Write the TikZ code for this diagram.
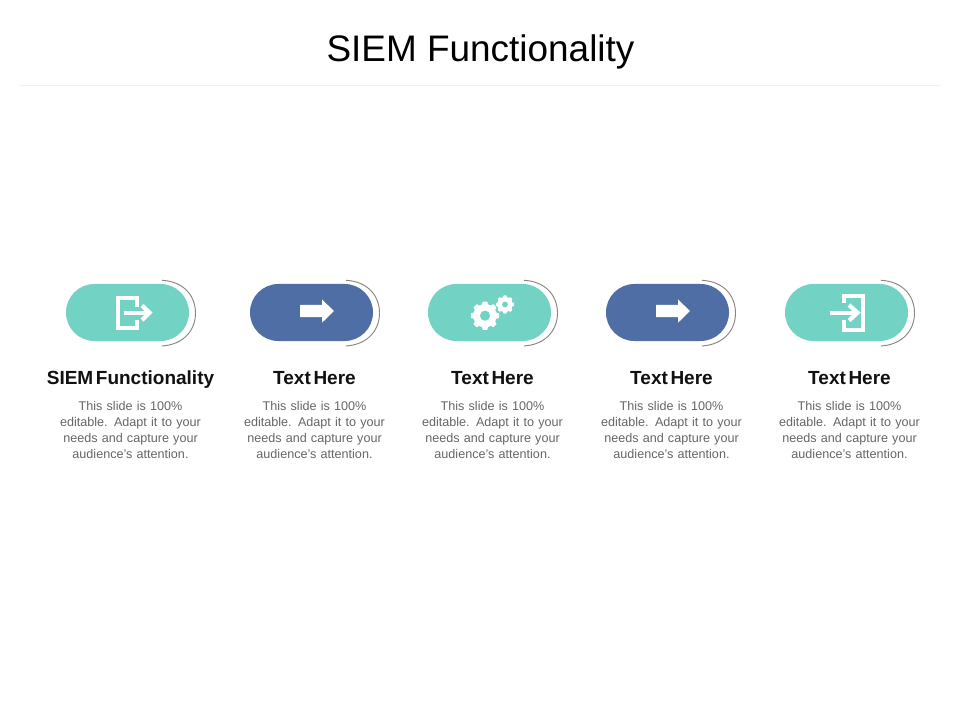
\documentclass[tikz,border=0pt]{standalone}
\usepackage{fontspec}
\setmainfont{Liberation Sans}
\newfontfamily\headfont[WordSpace=0.5]{Liberation Sans}
\definecolor{tealc}{HTML}{72D2C4}
\definecolor{bluec}{HTML}{4F6EA6}
\definecolor{arcc}{HTML}{8C8484}
\definecolor{bodyc}{HTML}{666666}
\definecolor{headc}{HTML}{111111}
\definecolor{rulec}{HTML}{F0F0F0}
\tikzset{
  pill/.style={draw=none,fill=#1,rounded corners=21.3pt},
  ringarc/.style={draw=arcc,line width=0.7pt},
  iconline/.style={draw=white,line width=3pt,line cap=butt,line join=miter},
  titletext/.style={font=\fontsize{27.7pt}{30pt}\selectfont,text=black,inner sep=0pt,anchor=base},
  headtext/.style={font=\headfont\bfseries\fontsize{14.25pt}{16pt}\selectfont,text=headc,inner sep=0pt,anchor=base},
  bodytext/.style={font=\fontsize{9.45pt}{12pt}\selectfont,text=bodyc,inner sep=0pt,align=center,anchor=north,text width=130pt},
}
\newcommand{\gearshape}[4]{% cx cy outer hole
  \begin{scope}[shift={(#1,#2)}]
  \fill[white,even odd rule,rounded corners=0.4pt] (-10:#3)
    \foreach \a in {0,45,...,315}{
      -- ({\a-10}:#3) -- ({\a+10}:#3) -- ({\a+14}:{0.82*#3}) -- ({\a+31}:{0.82*#3})
    } -- cycle
    (0,0) circle[radius=#4];
  \end{scope}
}
\begin{document}
\begin{tikzpicture}[x=0.75pt,y=-0.75pt]
\useasboundingbox[fill=white] (0,0) rectangle (960,720);
\node[titletext] (title) at (480.5,61.5) {SIEM Functionality};
\coordinate (ruleL) at (20,85.5);
\coordinate (ruleR) at (940,85.5);
\draw[rulec,line width=0.6pt] (ruleL) -- (ruleR);

% pills
\foreach \x/\c in {66/tealc,250/bluec,428/tealc,606/bluec,785/tealc}{
  \fill[pill=\c] (\x,284) rectangle (\x+123,341);
  \draw[ringarc] (\x+96,280.3) .. controls (\x+118,281.5) and (\x+129.5,296) .. (\x+129.5,313)
     .. controls (\x+129.5,330) and (\x+118,344.5) .. (\x+96,346);
}

% icon 1
\draw[iconline] (136.5,307.5) -- (136.5,298) -- (118,298) -- (118,328) -- (136.5,328) -- (136.5,320);
\draw[iconline] (124,312.7) -- (148,312.7);
\draw[iconline,line width=3.2pt] (142,305.5) -- (149.5,312.7) -- (142,320);

% icon 2, 4
\foreach \dx in {0,356}{
  \fill[white] (300+\dx,305) -- (322+\dx,305) -- (322+\dx,299.5) -- (334+\dx,311) -- (322+\dx,322.7) -- (322+\dx,317) -- (300+\dx,317) -- cycle;
}

% icon 3
\gearshape{485}{315.7}{14.3}{5.2}
\gearshape{505}{304.5}{9.2}{3}

% icon 5
\draw[iconline] (843.5,303) -- (843.5,296) -- (863,296) -- (863,329.5) -- (843.5,329.5) -- (843.5,320);
\draw[iconline] (830,312.7) -- (856,312.7);
\draw[iconline,line width=3.2pt] (849,305) -- (857.5,312.7) -- (849,320.5);

% headings
\node[headtext] (h1) at (130.5,384) {SIEM Functionality};
\node[headtext] (h2) at (314.5,384) {Text Here};
\node[headtext] (h3) at (492.5,384) {Text Here};
\node[headtext] (h4) at (671.5,384) {Text Here};
\node[headtext] (h5) at (849.5,384) {Text Here};

% bodies
\foreach \n/\x in {b1/130.5,b2/314.5,b3/492.5,b4/671.5,b5/849.5}{
  \node[bodytext] (\n) at (\x,401.5) {This slide is 100\%\\editable. Adapt it to your\\needs and capture your\\audience's attention.};
}
\end{tikzpicture}
\end{document}
